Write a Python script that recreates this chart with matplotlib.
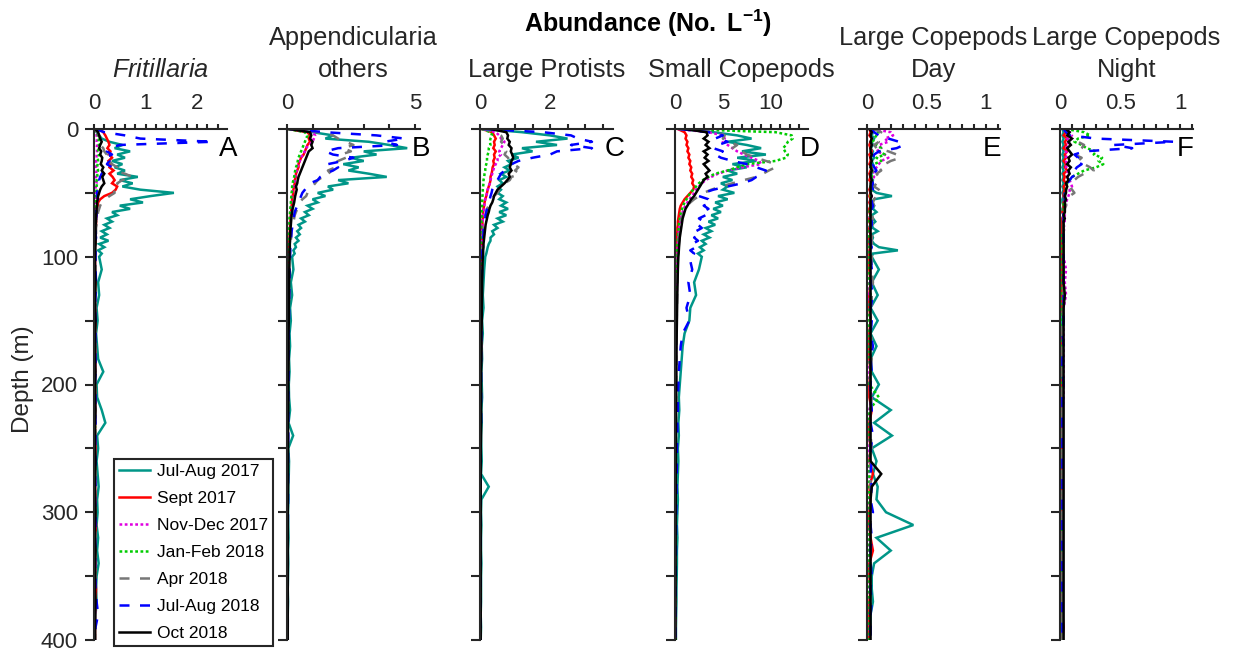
import matplotlib
matplotlib.use("Agg")
import matplotlib.pyplot as plt
from matplotlib.ticker import MultipleLocator, FixedLocator, FuncFormatter

plt.rcParams['font.family'] = ['Liberation Sans', 'DejaVu Sans']
plt.rcParams['mathtext.fontset'] = 'custom'
plt.rcParams['mathtext.rm'] = 'Liberation Sans'
plt.rcParams['mathtext.bf'] = 'Liberation Sans:bold'
plt.rcParams['mathtext.it'] = 'Liberation Sans:italic'

# ---------------- data ----------------
DEPTH = [0, 2.5, 5, 7.5, 10, 12.5, 15, 17.5, 20, 22.5,
         25, 27.5, 30, 32.5, 35, 37.5, 40, 42.5, 45, 47.5,
         50, 52.5, 55, 57.5, 60, 62.5, 65, 67.5, 70, 72.5,
         75, 77.5, 80, 82.5, 85, 87.5, 90, 92.5, 95, 97.5, 100,
         110, 120, 130, 140, 150, 160, 170, 180, 190, 200,
         210, 220, 230, 240, 250, 260, 270, 280, 290, 300,
         310, 320, 330, 340, 350, 360, 370, 380, 390, 400]

CRUISES = ["Jul-Aug 2017", "Sept 2017", "Nov-Dec 2017", "Jan-Feb 2018",
           "Apr 2018", "Jul-Aug 2018", "Oct 2018"]

# Panel A: Fritillaria
A_JA17 = [0.02,0.05,0.10,0.15,0.30,0.55,0.40,0.70,0.45,0.60, 0.35,0.55,0.40,0.60,0.45,0.85,0.50,0.75,0.55,0.90,
          1.55,1.10,0.70,0.95,0.50,0.70,0.35,0.45,0.25,0.35, 0.20,0.30,0.15,0.25,0.12,0.28,0.10,0.20,0.08,0.15,0.10,
          0.15,0.08,0.10,0.05,0.07,0.04,0.06,0.08,0.18,0.05, 0.06,0.15,0.22,0.06,0.08,0.05,0.07,0.09,0.06,0.07,
          0.05,0.08,0.06,0.09,0.05,0.04,0.05,0.03,0.02,0.02]
A_SEP17 = [0.10,0.18,0.22,0.25,0.28,0.30,0.26,0.32,0.30,0.35, 0.28,0.33,0.30,0.38,0.30,0.36,0.40,0.35,0.45,0.42,
           0.35,0.20,0.12,0.08,0.07,0.06,0.05,0.05,0.04,0.04, 0.04,0.03,0.03,0.03,0.03,0.03,0.03,0.02,0.02,0.02,0.02,
           0.02,0.03,0.02,0.02,0.03,0.02,0.02,0.03,0.02,0.02, 0.03,0.02,0.02,0.02,0.03,0.02,0.02,0.02,0.03,0.02,
           0.04,0.02,0.02,0.03,0.02,0.04,0.03,0.02,0.02,0.02]
A_ND17 = [0.02,0.04,0.05,0.06,0.05,0.06,0.05,0.06,0.05,0.05, 0.04,0.05,0.04,0.05,0.04,0.04,0.04,0.05,0.03,0.04,
          0.03,0.03,0.03,0.03,0.02,0.03,0.02,0.02,0.02,0.02, 0.02,0.02,0.02,0.02,0.02,0.02,0.02,0.02,0.02,0.02,0.02,
          0.02,0.02,0.01,0.02,0.02,0.01,0.02,0.02,0.02,0.01, 0.02,0.02,0.01,0.02,0.02,0.02,0.01,0.02,0.02,0.01,
          0.02,0.02,0.01,0.02,0.02,0.01,0.02,0.02,0.01,0.01]
A_JF18 = [0.02,0.05,0.08,0.10,0.08,0.10,0.09,0.08,0.10,0.07, 0.08,0.07,0.06,0.08,0.06,0.07,0.05,0.06,0.05,0.05,
          0.04,0.04,0.04,0.03,0.03,0.03,0.03,0.03,0.02,0.02, 0.02,0.02,0.02,0.02,0.02,0.02,0.02,0.02,0.02,0.02,0.02,
          0.01,0.02,0.02,0.01,0.02,0.02,0.01,0.02,0.01,0.02, 0.02,0.01,0.02,0.02,0.01,0.02,0.02,0.01,0.02,0.02,
          0.01,0.02,0.01,0.02,0.02,0.01,0.02,0.01,0.01,0.01]
A_APR18 = [0.02,0.06,0.10,0.12,0.15,0.12,0.18,0.20,0.25,0.20, 0.30,0.35,0.45,0.40,0.60,0.75,0.55,0.45,0.50,0.38,
           0.40,0.30,0.22,0.15,0.12,0.10,0.08,0.07,0.06,0.05, 0.05,0.04,0.04,0.04,0.03,0.03,0.03,0.03,0.03,0.03,0.03,
           0.03,0.02,0.03,0.02,0.02,0.03,0.02,0.02,0.02,0.03, 0.02,0.02,0.03,0.02,0.02,0.02,0.03,0.02,0.02,0.02,
           0.02,0.03,0.02,0.02,0.02,0.02,0.02,0.02,0.02,0.02]
A_JA18 = [0.03,0.20,0.60,0.90,2.30,0.50,0.30,0.25,0.35,0.20, 0.30,0.25,0.35,0.20,0.15,0.12,0.10,0.12,0.08,0.07,
          0.06,0.06,0.08,0.05,0.06,0.05,0.04,0.05,0.04,0.04, 0.03,0.04,0.03,0.03,0.04,0.03,0.03,0.03,0.03,0.03,0.03,
          0.03,0.04,0.03,0.02,0.03,0.03,0.02,0.03,0.03,0.02, 0.03,0.02,0.03,0.03,0.02,0.03,0.02,0.03,0.02,0.03,
          0.03,0.02,0.03,0.02,0.03,0.03,0.05,0.08,0.03,0.02]
A_OCT18 = [0.02,0.08,0.10,0.12,0.15,0.12,0.10,0.14,0.12,0.16, 0.15,0.13,0.18,0.15,0.20,0.16,0.18,0.20,0.15,0.12,
           0.10,0.08,0.07,0.06,0.06,0.05,0.05,0.04,0.04,0.04, 0.03,0.03,0.03,0.03,0.03,0.03,0.03,0.02,0.02,0.02,0.02,
           0.02,0.03,0.02,0.02,0.03,0.02,0.02,0.02,0.03,0.02, 0.02,0.03,0.02,0.02,0.02,0.03,0.02,0.02,0.02,0.03,
           0.02,0.02,0.03,0.02,0.02,0.02,0.03,0.02,0.02,0.02]

# Panel B: Appendicularia others
B_JA17 = [0.05,1.00,1.80,1.50,3.20,4.00,4.70,3.00,3.50,2.50, 3.00,2.20,2.80,2.40,3.20,3.90,2.00,2.40,1.60,1.80,
          1.20,1.50,1.00,1.20,0.80,1.00,0.70,0.85,0.55,0.70, 0.45,0.55,0.40,0.50,0.35,0.45,0.30,0.35,0.25,0.30,0.20,
          0.25,0.15,0.20,0.12,0.15,0.10,0.12,0.08,0.10,0.07, 0.08,0.12,0.06,0.24,0.05,0.08,0.07,0.05,0.06,0.04,
          0.05,0.06,0.04,0.05,0.04,0.03,0.04,0.03,0.03,0.03]
B_SEP17 = [0.05,0.80,0.90,0.85,0.90,0.80,0.75,0.70,0.65,0.55, 0.50,0.45,0.45,0.40,0.35,0.35,0.30,0.30,0.28,0.25,
           0.25,0.22,0.20,0.20,0.18,0.17,0.16,0.15,0.14,0.13, 0.12,0.12,0.11,0.10,0.10,0.09,0.09,0.08,0.08,0.07,0.07,
           0.06,0.06,0.05,0.05,0.05,0.04,0.04,0.04,0.04,0.03, 0.03,0.03,0.03,0.03,0.03,0.03,0.03,0.03,0.03,0.03,
           0.02,0.03,0.02,0.02,0.02,0.02,0.02,0.02,0.02,0.02]
B_ND17 = [0.05,1.00,1.10,1.05,1.00,0.85,0.75,0.70,0.60,0.55, 0.50,0.45,0.40,0.38,0.35,0.32,0.30,0.28,0.25,0.22,
          0.20,0.19,0.18,0.17,0.16,0.15,0.14,0.13,0.12,0.11, 0.10,0.10,0.09,0.09,0.08,0.08,0.07,0.07,0.07,0.06,0.06,
          0.05,0.05,0.05,0.04,0.04,0.04,0.04,0.03,0.03,0.03, 0.03,0.03,0.03,0.03,0.03,0.02,0.02,0.02,0.02,0.02,
          0.02,0.02,0.02,0.02,0.02,0.02,0.02,0.02,0.02,0.02]
B_JF18 = [0.05,0.70,0.80,0.75,0.70,0.65,0.60,0.55,0.50,0.45, 0.42,0.40,0.35,0.32,0.30,0.28,0.25,0.22,0.20,0.20,
          0.18,0.17,0.16,0.15,0.14,0.13,0.12,0.11,0.10,0.10, 0.09,0.09,0.08,0.08,0.07,0.07,0.06,0.06,0.06,0.05,0.05,
          0.05,0.04,0.04,0.04,0.04,0.03,0.03,0.03,0.03,0.03, 0.03,0.03,0.02,0.02,0.02,0.02,0.02,0.02,0.02,0.02,
          0.02,0.02,0.02,0.02,0.02,0.02,0.02,0.02,0.02,0.02]
B_APR18 = [0.10,1.20,1.80,2.00,2.30,2.60,2.20,2.50,2.10,2.30, 2.00,1.80,1.90,1.60,1.70,1.40,1.20,1.10,1.00,0.90,
           0.80,0.75,0.60,0.50,0.45,0.40,0.35,0.30,0.28,0.25, 0.22,0.20,0.18,0.17,0.16,0.15,0.14,0.13,0.12,0.12,0.11,
           0.10,0.09,0.08,0.08,0.07,0.07,0.06,0.06,0.05,0.05, 0.05,0.05,0.04,0.04,0.04,0.04,0.04,0.03,0.03,0.03,
           0.03,0.03,0.03,0.03,0.03,0.03,0.03,0.03,0.03,0.03]
B_JA18 = [0.10,1.50,3.50,4.60,3.80,4.30,2.00,1.50,1.80,2.60, 2.20,1.60,2.00,1.80,1.50,1.30,1.20,0.90,0.80,0.70,
          0.60,0.55,0.50,0.45,0.40,0.35,0.30,0.28,0.25,0.23, 0.21,0.20,0.18,0.17,0.16,0.15,0.14,0.13,0.13,0.12,0.12,
          0.10,0.10,0.09,0.08,0.08,0.07,0.07,0.06,0.06,0.06, 0.05,0.05,0.05,0.05,0.04,0.04,0.04,0.04,0.04,0.04,
          0.03,0.03,0.03,0.03,0.03,0.03,0.03,0.03,0.03,0.03]
B_OCT18 = [0.10,0.90,0.95,0.90,1.00,0.95,1.00,0.85,0.80,0.75, 0.70,0.65,0.60,0.55,0.50,0.45,0.42,0.40,0.35,0.38,
           0.35,0.32,0.30,0.28,0.25,0.22,0.20,0.18,0.17,0.16, 0.15,0.14,0.13,0.13,0.12,0.12,0.11,0.11,0.10,0.10,0.10,
           0.09,0.08,0.08,0.07,0.07,0.06,0.06,0.06,0.05,0.05, 0.05,0.05,0.04,0.04,0.04,0.04,0.04,0.04,0.03,0.03,
           0.03,0.03,0.03,0.03,0.03,0.03,0.03,0.03,0.03,0.03]

# Panel C: Large Protists
C_JA17 = [0.10,1.20,2.00,2.50,1.60,2.20,1.20,1.50,0.90,1.10, 0.80,0.90,0.70,0.85,0.60,0.75,0.55,0.65,0.50,0.60,
          0.50,0.65,0.55,0.75,0.60,0.80,0.55,0.75,0.50,0.65, 0.40,0.50,0.35,0.40,0.30,0.30,0.25,0.22,0.20,0.18,0.15,
          0.12,0.10,0.08,0.10,0.06,0.08,0.05,0.06,0.04,0.05, 0.06,0.04,0.05,0.03,0.04,0.05,0.03,0.25,0.04,0.03,
          0.04,0.03,0.03,0.04,0.03,0.03,0.03,0.02,0.03,0.02]
C_SEP17 = [0.05,0.35,0.40,0.45,0.40,0.42,0.38,0.45,0.40,0.42, 0.38,0.40,0.36,0.35,0.33,0.30,0.30,0.28,0.25,0.22,
           0.20,0.18,0.15,0.13,0.12,0.10,0.09,0.08,0.08,0.07, 0.07,0.06,0.06,0.05,0.05,0.05,0.05,0.04,0.04,0.04,0.04,
           0.04,0.03,0.03,0.03,0.03,0.03,0.03,0.02,0.02,0.02, 0.02,0.02,0.02,0.02,0.02,0.02,0.02,0.02,0.02,0.02,
           0.02,0.02,0.02,0.02,0.02,0.02,0.02,0.02,0.02,0.02]
C_ND17 = [0.05,0.45,0.55,0.60,0.70,0.65,0.60,0.55,0.60,0.50, 0.50,0.45,0.40,0.38,0.35,0.32,0.30,0.28,0.25,0.22,
          0.20,0.18,0.15,0.13,0.12,0.11,0.10,0.09,0.08,0.08, 0.07,0.07,0.06,0.06,0.05,0.05,0.05,0.05,0.04,0.04,0.04,
          0.04,0.04,0.03,0.03,0.03,0.03,0.03,0.03,0.02,0.02, 0.02,0.02,0.02,0.02,0.02,0.02,0.02,0.02,0.02,0.02,
          0.02,0.02,0.02,0.02,0.02,0.02,0.02,0.02,0.02,0.02]
C_JF18 = [0.05,0.30,0.35,0.30,0.28,0.30,0.25,0.25,0.22,0.20, 0.20,0.18,0.15,0.15,0.13,0.12,0.10,0.10,0.09,0.08,
          0.08,0.07,0.07,0.06,0.06,0.05,0.05,0.05,0.04,0.04, 0.04,0.04,0.03,0.03,0.03,0.03,0.03,0.03,0.03,0.03,0.03,
          0.03,0.03,0.02,0.02,0.02,0.02,0.02,0.02,0.02,0.02, 0.02,0.02,0.02,0.02,0.02,0.02,0.02,0.02,0.02,0.02,
          0.02,0.02,0.02,0.02,0.02,0.02,0.02,0.02,0.02,0.02]
C_APR18 = [0.05,0.50,0.60,0.65,0.60,0.70,0.65,0.75,0.70,0.80, 0.85,0.95,1.10,1.00,1.15,0.90,0.85,0.70,0.60,0.55,
           0.50,0.40,0.35,0.30,0.25,0.20,0.18,0.16,0.14,0.12, 0.11,0.10,0.09,0.08,0.08,0.07,0.07,0.06,0.06,0.06,0.05,
           0.05,0.05,0.04,0.04,0.04,0.03,0.03,0.03,0.03,0.03, 0.03,0.03,0.02,0.02,0.02,0.02,0.02,0.02,0.02,0.02,
           0.02,0.02,0.02,0.02,0.02,0.02,0.02,0.02,0.02,0.02]
C_JA18 = [0.10,1.80,2.60,2.80,3.20,2.60,3.20,2.20,2.00,1.50, 1.10,0.90,0.80,0.70,0.60,0.55,0.50,0.45,0.40,0.35,
          0.33,0.30,0.28,0.25,0.22,0.20,0.18,0.16,0.15,0.14, 0.12,0.11,0.10,0.10,0.09,0.08,0.08,0.07,0.07,0.06,0.06,
          0.06,0.05,0.05,0.04,0.04,0.04,0.03,0.03,0.03,0.03, 0.03,0.03,0.03,0.02,0.02,0.02,0.02,0.02,0.02,0.02,
          0.02,0.02,0.02,0.02,0.02,0.02,0.02,0.02,0.02,0.02]
C_OCT18 = [0.30,0.75,0.80,0.78,0.85,0.82,0.90,0.88,0.92,0.95, 0.90,0.88,0.85,0.90,0.82,0.85,0.78,0.70,0.60,0.50,
           0.45,0.40,0.38,0.35,0.30,0.27,0.25,0.22,0.20,0.18, 0.16,0.15,0.14,0.13,0.12,0.11,0.10,0.10,0.09,0.09,0.08,
           0.07,0.06,0.06,0.05,0.05,0.04,0.04,0.04,0.03,0.03, 0.03,0.03,0.03,0.03,0.02,0.02,0.02,0.02,0.02,0.02,
           0.02,0.02,0.02,0.02,0.02,0.02,0.02,0.02,0.02,0.02]

# Panel D: Small Copepods
D_JA17 = [0.50,4.00,6.50,8.00,5.50,7.50,9.00,7.00,9.50,6.50, 8.50,6.00,7.50,5.50,6.50,5.00,6.00,4.80,5.50,5.00,
          6.20,4.50,5.50,4.20,5.00,4.00,4.80,3.80,4.50,3.50, 4.20,3.20,3.80,3.00,3.60,2.80,3.20,2.60,3.00,2.40,2.80,
          2.50,2.00,2.20,1.60,1.50,1.00,0.80,0.70,0.60,0.50, 0.40,0.45,0.35,0.40,0.30,0.35,0.30,0.25,0.30,0.25,
          0.20,0.25,0.20,0.20,0.18,0.15,0.15,0.12,0.10,0.10]
D_SEP17 = [0.30,1.00,1.20,1.10,1.30,1.20,1.40,1.30,1.50,1.40, 1.60,1.50,1.70,1.60,1.80,1.70,1.90,1.80,2.00,1.90,
           1.60,1.30,1.00,0.80,0.60,0.50,0.45,0.40,0.35,0.30, 0.30,0.25,0.25,0.22,0.20,0.20,0.18,0.17,0.16,0.15,0.15,
           0.13,0.12,0.11,0.10,0.09,0.09,0.08,0.08,0.07,0.07, 0.06,0.06,0.06,0.05,0.05,0.05,0.05,0.05,0.04,0.04,
           0.04,0.04,0.04,0.04,0.04,0.03,0.03,0.03,0.03,0.03]
D_ND17 = [0.30,3.50,5.00,5.20,5.00,5.50,6.00,6.50,7.20,8.00, 8.80,9.00,7.00,5.50,4.50,3.80,3.20,2.80,2.50,2.20,
          2.00,1.80,1.50,1.30,1.10,0.90,0.80,0.70,0.60,0.55, 0.50,0.45,0.40,0.38,0.35,0.32,0.30,0.28,0.27,0.26,0.25,
          0.22,0.20,0.18,0.16,0.15,0.14,0.13,0.12,0.11,0.10, 0.10,0.09,0.09,0.08,0.08,0.08,0.07,0.07,0.07,0.06,
          0.06,0.06,0.06,0.05,0.05,0.05,0.05,0.05,0.05,0.05]
D_JF18 = [0.50,10.50,12.20,12.30,11.80,11.60,11.30,11.50,11.80,11.60, 10.50,7.50,6.50,5.50,4.20,3.50,2.90,2.50,2.20,1.90,
          1.60,1.40,1.20,1.00,0.85,0.75,0.65,0.55,0.50,0.45, 0.40,0.38,0.35,0.32,0.30,0.28,0.26,0.24,0.22,0.21,0.20,
          0.18,0.16,0.15,0.14,0.13,0.12,0.11,0.10,0.10,0.09, 0.09,0.08,0.08,0.07,0.07,0.07,0.06,0.06,0.06,0.06,
          0.05,0.05,0.05,0.05,0.05,0.05,0.05,0.05,0.05,0.05]
D_APR18 = [0.50,4.50,5.20,5.00,5.50,6.50,6.00,7.00,7.50,8.50, 9.50,10.50,10.50,9.80,9.20,8.50,7.20,6.00,4.80,3.80,
           3.00,2.50,2.00,1.60,1.30,1.10,0.90,0.80,0.70,0.60, 0.55,0.50,0.45,0.42,0.40,0.38,0.36,0.34,0.32,0.31,0.30,
           0.27,0.25,0.22,0.20,0.18,0.17,0.16,0.15,0.14,0.13, 0.12,0.11,0.10,0.10,0.09,0.09,0.08,0.08,0.08,0.07,
           0.07,0.07,0.06,0.06,0.06,0.06,0.05,0.05,0.05,0.05]
D_JA18 = [0.50,3.50,5.00,4.20,5.50,4.50,4.00,5.00,4.20,4.80, 6.00,7.50,8.50,9.50,9.30,8.50,8.00,7.00,5.50,4.00,
          3.00,2.50,3.50,3.80,3.00,3.50,2.80,3.20,2.50,3.00, 2.40,2.80,2.20,2.60,2.00,2.40,1.80,2.20,1.60,2.00,1.50,
          1.80,1.40,1.60,1.20,1.50,0.80,0.60,0.50,0.40,0.35, 0.30,0.30,0.25,0.25,0.20,0.20,0.18,0.15,0.15,0.12,
          0.12,0.10,0.10,0.08,0.08,0.07,0.06,0.05,0.05,0.05]
D_OCT18 = [1.00,3.30,3.40,3.00,3.50,3.20,3.60,3.00,3.40,3.10, 3.50,3.00,3.30,3.60,3.20,3.40,3.00,2.80,2.60,2.40,
           2.20,2.00,1.70,1.50,1.30,1.10,1.00,0.90,0.80,0.75, 0.70,0.65,0.60,0.55,0.50,0.48,0.45,0.42,0.40,0.38,0.35,
           0.30,0.27,0.24,0.22,0.20,0.18,0.16,0.15,0.14,0.13, 0.12,0.11,0.10,0.10,0.09,0.09,0.08,0.08,0.08,0.07,
           0.07,0.07,0.06,0.06,0.06,0.06,0.05,0.05,0.05,0.05]

# Panel E: Large Copepods Day
E_JA17 = [0.02,0.05,0.04,0.06,0.04,0.05,0.03,0.05,0.04,0.06, 0.04,0.05,0.03,0.05,0.04,0.03,0.05,0.04,0.06,0.04,
          0.08,0.21,0.06,0.04,0.06,0.05,0.08,0.04,0.05,0.07, 0.04,0.05,0.09,0.04,0.05,0.04,0.06,0.10,0.26,0.05,0.04,
          0.10,0.04,0.09,0.03,0.09,0.03,0.08,0.03,0.04,0.10, 0.04,0.20,0.06,0.21,0.04,0.08,0.05,0.09,0.08,0.16,
          0.39,0.08,0.20,0.06,0.04,0.04,0.05,0.03,0.03,0.02]
E_SEP17 = [0.02,0.03,0.02,0.04,0.03,0.02,0.03,0.04,0.02,0.03, 0.03,0.02,0.04,0.03,0.02,0.03,0.02,0.04,0.03,0.02,
           0.03,0.02,0.03,0.02,0.03,0.02,0.02,0.03,0.02,0.02, 0.03,0.02,0.02,0.03,0.02,0.02,0.02,0.03,0.02,0.02,0.02,
           0.02,0.03,0.02,0.02,0.03,0.02,0.02,0.02,0.03,0.02, 0.02,0.04,0.02,0.02,0.03,0.02,0.05,0.02,0.03,0.02,
           0.02,0.03,0.05,0.02,0.02,0.03,0.02,0.02,0.02,0.02]
E_ND17 = [0.05,0.20,0.22,0.15,0.18,0.10,0.12,0.08,0.15,0.18, 0.12,0.10,0.08,0.06,0.05,0.06,0.04,0.05,0.04,0.04,
          0.03,0.04,0.03,0.03,0.04,0.03,0.03,0.03,0.02,0.03, 0.02,0.03,0.02,0.02,0.03,0.02,0.02,0.02,0.02,0.02,0.02,
          0.03,0.02,0.02,0.02,0.03,0.02,0.02,0.02,0.02,0.02, 0.04,0.02,0.02,0.02,0.02,0.02,0.02,0.03,0.02,0.02,
          0.02,0.02,0.02,0.02,0.02,0.02,0.02,0.02,0.02,0.02]
E_JF18 = [0.05,0.10,0.08,0.06,0.05,0.08,0.12,0.10,0.15,0.08, 0.12,0.06,0.05,0.04,0.05,0.04,0.04,0.05,0.03,0.04,
          0.03,0.03,0.04,0.03,0.03,0.03,0.02,0.03,0.02,0.02, 0.03,0.02,0.02,0.02,0.02,0.02,0.02,0.02,0.02,0.02,0.02,
          0.02,0.02,0.03,0.02,0.02,0.02,0.02,0.02,0.03,0.02, 0.10,0.02,0.02,0.02,0.03,0.02,0.02,0.02,0.02,0.02,
          0.02,0.02,0.02,0.02,0.02,0.02,0.02,0.02,0.02,0.02]
E_APR18 = [0.05,0.12,0.10,0.08,0.10,0.06,0.08,0.18,0.25,0.28, 0.20,0.15,0.10,0.12,0.08,0.10,0.07,0.08,0.06,0.10,
           0.12,0.08,0.06,0.05,0.06,0.05,0.06,0.04,0.05,0.04, 0.05,0.04,0.04,0.05,0.04,0.04,0.04,0.05,0.04,0.04,0.04,
           0.04,0.05,0.04,0.04,0.03,0.04,0.03,0.04,0.03,0.03, 0.04,0.03,0.03,0.03,0.04,0.03,0.03,0.03,0.03,0.03,
           0.03,0.03,0.03,0.03,0.03,0.03,0.03,0.03,0.03,0.03]
E_JA18 = [0.03,0.06,0.10,0.18,0.27,0.31,0.25,0.10,0.06,0.05, 0.08,0.05,0.06,0.08,0.05,0.06,0.04,0.05,0.04,0.05,
          0.04,0.05,0.04,0.04,0.05,0.04,0.04,0.04,0.03,0.04, 0.04,0.03,0.04,0.03,0.04,0.03,0.03,0.04,0.03,0.03,0.03,
          0.04,0.03,0.05,0.03,0.04,0.03,0.05,0.03,0.04,0.03, 0.03,0.04,0.03,0.05,0.03,0.04,0.03,0.04,0.03,0.05,
          0.03,0.04,0.03,0.03,0.04,0.03,0.04,0.03,0.03,0.03]
E_OCT18 = [0.02,0.04,0.03,0.04,0.03,0.04,0.03,0.03,0.04,0.03, 0.04,0.03,0.03,0.04,0.03,0.03,0.04,0.03,0.03,0.03,
           0.03,0.04,0.03,0.03,0.03,0.03,0.03,0.03,0.03,0.03, 0.03,0.03,0.03,0.03,0.03,0.03,0.03,0.03,0.03,0.03,0.03,
           0.03,0.03,0.03,0.03,0.03,0.03,0.03,0.03,0.03,0.03, 0.03,0.03,0.03,0.03,0.03,0.03,0.12,0.04,0.03,0.03,
           0.03,0.03,0.03,0.03,0.03,0.03,0.03,0.03,0.03,0.03]

# Panel F: Large Copepods Night
F_JA17 = [0.02,0.03,0.02,0.03,0.02,0.03,0.02,0.03,0.02,0.03, 0.02,0.03,0.02,0.03,0.02,0.03,0.02,0.03,0.02,0.03,
          0.02,0.03,0.02,0.02,0.03,0.02,0.02,0.03,0.02,0.02, 0.02,0.02,0.02,0.02,0.02,0.02,0.02,0.02,0.02,0.02,0.02,
          0.02,0.02,0.02,0.02,0.02,0.02,0.02,0.02,0.02,0.02, 0.02,0.02,0.02,0.02,0.02,0.02,0.02,0.02,0.02,0.02,
          0.02,0.02,0.02,0.02,0.02,0.02,0.02,0.02,0.02,0.02]
F_SEP17 = [0.03,0.05,0.03,0.06,0.04,0.05,0.03,0.06,0.04,0.05, 0.03,0.05,0.04,0.06,0.03,0.04,0.03,0.05,0.03,0.04,
           0.03,0.03,0.04,0.03,0.03,0.03,0.02,0.03,0.02,0.02, 0.02,0.02,0.02,0.02,0.02,0.02,0.02,0.02,0.02,0.02,0.02,
           0.02,0.02,0.02,0.02,0.03,0.02,0.02,0.02,0.02,0.02, 0.02,0.02,0.02,0.02,0.02,0.02,0.02,0.02,0.02,0.02,
           0.02,0.02,0.02,0.02,0.02,0.02,0.02,0.02,0.03,0.02]
F_ND17 = [0.03,0.08,0.10,0.06,0.08,0.05,0.06,0.05,0.06,0.05, 0.05,0.06,0.05,0.06,0.07,0.06,0.08,0.09,0.10,0.08,
          0.08,0.07,0.06,0.05,0.05,0.04,0.04,0.04,0.03,0.04, 0.03,0.04,0.03,0.03,0.03,0.03,0.03,0.03,0.03,0.03,0.03,
          0.05,0.04,0.05,0.03,0.03,0.03,0.03,0.03,0.03,0.03, 0.03,0.02,0.02,0.02,0.02,0.02,0.02,0.02,0.02,0.02,
          0.02,0.02,0.02,0.02,0.02,0.02,0.02,0.02,0.02,0.02]
F_JF18 = [0.05,0.20,0.25,0.15,0.12,0.18,0.22,0.30,0.28,0.35, 0.32,0.36,0.30,0.20,0.15,0.10,0.08,0.06,0.05,0.05,
          0.04,0.04,0.04,0.03,0.03,0.03,0.03,0.03,0.03,0.03, 0.03,0.03,0.03,0.02,0.02,0.02,0.02,0.02,0.02,0.02,0.02,
          0.02,0.02,0.02,0.02,0.02,0.02,0.02,0.02,0.02,0.02, 0.02,0.02,0.02,0.02,0.02,0.02,0.02,0.02,0.02,0.02,
          0.02,0.02,0.02,0.02,0.02,0.02,0.02,0.02,0.02,0.02]
F_APR18 = [0.03,0.06,0.08,0.12,0.15,0.20,0.18,0.15,0.12,0.18, 0.15,0.20,0.25,0.28,0.20,0.15,0.12,0.10,0.08,0.10,
           0.12,0.08,0.06,0.05,0.05,0.04,0.04,0.04,0.04,0.03, 0.03,0.03,0.03,0.03,0.03,0.03,0.03,0.03,0.03,0.03,0.03,
           0.03,0.03,0.03,0.03,0.02,0.02,0.02,0.02,0.02,0.02, 0.02,0.02,0.02,0.02,0.02,0.02,0.02,0.02,0.02,0.02,
           0.02,0.02,0.02,0.02,0.02,0.02,0.02,0.02,0.02,0.02]
F_JA18 = [0.03,0.05,0.08,0.30,0.95,0.45,0.60,0.20,0.12,0.15, 0.12,0.18,0.14,0.12,0.15,0.10,0.08,0.06,0.05,0.05,
          0.04,0.04,0.04,0.04,0.03,0.03,0.03,0.03,0.03,0.03, 0.03,0.03,0.03,0.03,0.03,0.03,0.03,0.03,0.03,0.03,0.03,
          0.03,0.03,0.03,0.03,0.03,0.02,0.03,0.02,0.02,0.03, 0.02,0.02,0.02,0.02,0.02,0.02,0.02,0.02,0.02,0.02,
          0.02,0.02,0.02,0.02,0.02,0.02,0.02,0.02,0.02,0.02]
F_OCT18 = [0.05,0.08,0.06,0.10,0.07,0.09,0.06,0.08,0.10,0.07, 0.08,0.06,0.09,0.07,0.08,0.06,0.07,0.05,0.06,0.05,
           0.05,0.04,0.05,0.04,0.04,0.04,0.04,0.03,0.04,0.03, 0.03,0.03,0.03,0.03,0.03,0.03,0.03,0.03,0.03,0.03,0.03,
           0.03,0.03,0.04,0.03,0.03,0.03,0.03,0.03,0.03,0.03, 0.03,0.03,0.03,0.03,0.03,0.03,0.03,0.03,0.03,0.03,
           0.03,0.03,0.03,0.03,0.03,0.03,0.03,0.03,0.03,0.03]

# ---------------- styling ----------------
INK = '#262626'
LW = 1.8
STYLES = [dict(color='#009688', ls='-'),
          dict(color='#FF0000', ls='-'),
          dict(color='#E000E0', ls=(0, (1.1, 1.0))),
          dict(color='#00CC00', ls=(0, (1.1, 1.0))),
          dict(color='#777777', ls=(0, (4.0, 4.2))),
          dict(color='#0000FF', ls=(0, (4.0, 4.2))),
          dict(color='#000000', ls='-')]

W, H = 1234, 651
fig = plt.figure(figsize=(W / 100, H / 100), dpi=100)

LEFTS = [94, 287, 480, 675, 867, 1060]
AX_W = 133
TOP, BOT = 129, 640

panels = [
    (["$\\it{Fritillaria}$"], 'A', [A_JA17, A_SEP17, A_ND17, A_JF18, A_APR18, A_JA18, A_OCT18], 2.58, [0, 1, 2], 0.2, 228),
    (["Appendicularia", "others"], 'B', [B_JA17, B_SEP17, B_ND17, B_JF18, B_APR18, B_JA18, B_OCT18], 5.2, [0, 5], 1, 421),
    (["Large Protists"], 'C', [C_JA17, C_SEP17, C_ND17, C_JF18, C_APR18, C_JA18, C_OCT18], 3.8, [0, 2], 0.5, 615),
    (["Small Copepods"], 'D', [D_JA17, D_SEP17, D_ND17, D_JF18, D_APR18, D_JA18, D_OCT18], 13.9, [0, 5, 10], 1, 810),
    (["Large Copepods", "Day"], 'E', [E_JA17, E_SEP17, E_ND17, E_JF18, E_APR18, E_JA18, E_OCT18], 1.12, [0, 0.5, 1], 0.1, 992),
    (["Large Copepods", "Night"], 'F', [F_JA17, F_SEP17, F_ND17, F_JF18, F_APR18, F_JA18, F_OCT18], 1.105, [0, 0.5, 1], 0.1, 1185),
]

def fx(px):
    return px / W

def fy(py):
    return 1 - py / H

TITLE_FS = 18.3
legend_handles = None
for i, (title, letter, series, xmax, majors, minor, letter_x) in enumerate(panels):
    ax = fig.add_axes([fx(LEFTS[i]), fy(BOT), AX_W / W, (BOT - TOP) / H])
    lines = []
    for vals, lab, st in zip(series, CRUISES, STYLES):
        ln, = ax.plot(vals, DEPTH, color=st['color'], linestyle=st['ls'], lw=LW, label=lab,
                      solid_joinstyle='miter')
        lines.append(ln)
    if i == 0:
        legend_handles = lines
    ax.set_xlim(0, xmax)
    ax.set_ylim(400, 0)
    for s in ['right', 'bottom']:
        ax.spines[s].set_visible(False)
    for s in ['top', 'left']:
        ax.spines[s].set_linewidth(1.5)
        ax.spines[s].set_color(INK)
    ax.xaxis.tick_top()
    ax.xaxis.set_major_locator(FixedLocator(majors))
    ax.xaxis.set_minor_locator(MultipleLocator(minor))
    ax.xaxis.set_major_formatter(FuncFormatter(lambda v, p: f"{v:g}"))
    ax.tick_params(axis='x', which='both', direction='out', length=3.8, width=1.5, color=INK,
                   labelcolor=INK, labelsize=16, pad=7, top=True, bottom=False)
    ax.yaxis.set_major_locator(MultipleLocator(50))
    ax.yaxis.set_major_formatter(FuncFormatter(lambda v, p: f"{v:.0f}" if v % 100 == 0 else ""))
    ax.tick_params(axis='y', which='both', direction='out', length=6.5, width=1.5, color=INK,
                   labelcolor=INK, labelsize=16, pad=5, labelleft=(i == 0))
    cx = LEFTS[i] + AX_W / 2
    if len(title) == 1:
        fig.text(fx(cx), fy(77), title[0], ha='center', va='baseline', fontsize=TITLE_FS, color=INK)
    else:
        fig.text(fx(cx), fy(45), title[0], ha='center', va='baseline', fontsize=TITLE_FS, color=INK)
        fig.text(fx(cx), fy(77), title[1], ha='center', va='baseline', fontsize=TITLE_FS, color=INK)
    fig.text(fx(letter_x), fy(156), letter, ha='center', va='baseline', fontsize=20, color='black')

fig.text(fx(648), fy(32), r"$\mathbf{Abundance\ (No.\ L^{-1})}$", ha='center', va='baseline',
         fontsize=18, color='black')
fig.text(fx(23.5), fy(379), "Depth (m)", rotation=90, ha='center', va='center', fontsize=17.5, color=INK)

leg = fig.legend(handles=legend_handles, loc='lower left', bbox_to_anchor=(fx(114), fy(646)),
                 bbox_transform=fig.transFigure, borderaxespad=0, fontsize=12.5, frameon=True,
                 fancybox=False, edgecolor=INK, framealpha=1, handlelength=1.8, handletextpad=0.35,
                 labelspacing=0.68, borderpad=0.3)
leg.get_frame().set_linewidth(1.5)
for t in leg.get_texts():
    t.set_color('black')

fig.savefig("out.png", dpi=100)
